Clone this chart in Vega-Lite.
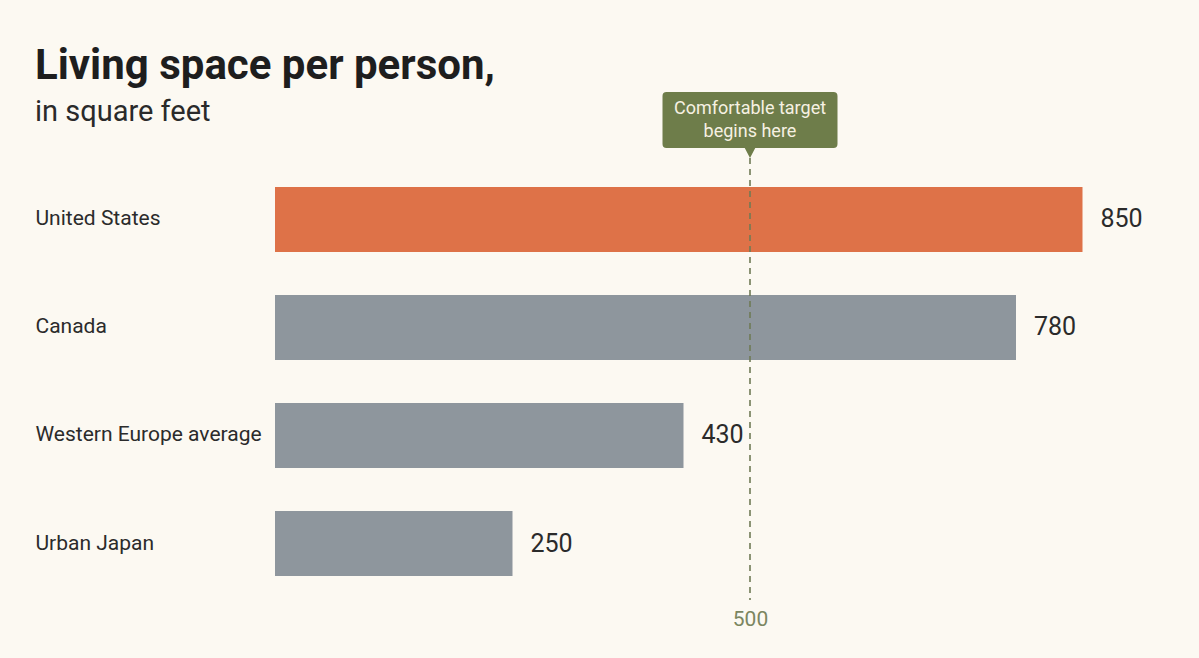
{
  "$schema": "https://vega.github.io/schema/vega-lite/v6.json",
  "width": 855,
  "height": 442,
  "autosize": {"type": "none"},
  "padding": {"left": 275, "top": 158, "right": 69, "bottom": 58},
  "background": "#fcf9f2",
  "config": {
    "view": {"stroke": null},
    "font": "Roboto"
  },
  "title": {
    "text": "Living space per person,",
    "subtitle": "in square feet",
    "anchor": "start",
    "frame": "bounds",
    "font": "Roboto",
    "fontSize": 42,
    "fontWeight": "bold",
    "color": "#1e1e1e",
    "subtitleFont": "Roboto",
    "subtitleFontSize": 29,
    "subtitleColor": "#2a2a2a",
    "subtitlePadding": 10,
    "offset": 10,
    "dy": 46
  },
  "datasets": {
    "regions": [
      {"region": "United States", "sqft": 850},
      {"region": "Canada", "sqft": 780},
      {"region": "Western Europe average", "sqft": 430},
      {"region": "Urban Japan", "sqft": 250}
    ],
    "target": [
      {"threshold": 500, "note": "Comfortable target\nbegins here"}
    ]
  },
  "resolve": {"scale": {"y": "independent"}, "axis": {"y": "independent"}},
  "layer": [
    {
      "data": {"name": "regions"},
      "encoding": {
        "y": {
          "field": "region",
          "type": "nominal",
          "sort": null,
          "scale": {"paddingInner": 0.398, "paddingOuter": 0.245, "align": 0.547},
          "axis": {
            "title": null,
            "domain": false,
            "ticks": false,
            "labelAlign": "left",
            "labelPadding": 240,
            "labelLimit": 400,
            "labelFontSize": 21,
            "labelColor": "#2b2b2b",
            "labelFont": "Roboto"
          }
        },
        "x": {
          "field": "sqft",
          "type": "quantitative",
          "scale": {"domain": [0, 900], "nice": false},
          "axis": {
            "title": null,
            "values": [500],
            "domain": false,
            "ticks": false,
            "grid": false,
            "labelFontSize": 21,
            "labelColor": "#7b8660",
            "labelPadding": 8,
            "labelFont": "Roboto"
          }
        }
      },
      "layer": [
        {
          "mark": {"type": "bar"},
          "encoding": {
            "color": {
              "condition": {"test": "datum.region === 'United States'", "value": "#de7248"},
              "value": "#8e969d"
            }
          }
        },
        {
          "mark": {"type": "text", "align": "left", "baseline": "middle", "dx": 18, "fontSize": 25, "color": "#2b2b2b", "font": "Roboto"},
          "encoding": {
            "text": {"field": "sqft", "type": "quantitative"}
          }
        }
      ]
    },
    {
      "data": {"name": "target"},
      "mark": {"type": "rule", "color": "#6f7b55", "strokeWidth": 1.6, "strokeDash": [6, 5]},
      "encoding": {
        "x": {"field": "threshold", "type": "quantitative"}
      }
    },
    {
      "data": {"name": "target"},
      "mark": {
        "type": "point",
        "filled": true,
        "opacity": 1,
        "strokeWidth": 0,
        "size": 30625,
        "color": "#6e7d4a",
        "shape": "M-0.954,-0.754 L0.954,-0.754 Q1,-0.754 1,-0.708 L1,-0.16 Q1,-0.114 0.954,-0.114 L0.06,-0.114 L0,0 L-0.06,-0.114 L-0.954,-0.114 Q-1,-0.114 -1,-0.16 L-1,-0.708 Q-1,-0.754 -0.954,-0.754 Z"
      },
      "encoding": {
        "x": {"field": "threshold", "type": "quantitative"},
        "y": {"datum": 1, "type": "quantitative", "scale": {"domain": [0, 1]}, "axis": null}
      }
    },
    {
      "data": {"name": "target"},
      "mark": {
        "type": "text",
        "align": "center",
        "baseline": "top",
        "lineBreak": "\n",
        "lineHeight": 23,
        "dy": -58,
        "fontSize": 18,
        "color": "#f6f1e2",
        "font": "Roboto"
      },
      "encoding": {
        "x": {"field": "threshold", "type": "quantitative"},
        "y": {"datum": 1, "type": "quantitative", "scale": {"domain": [0, 1]}, "axis": null},
        "text": {"field": "note", "type": "nominal"}
      }
    }
  ]
}
